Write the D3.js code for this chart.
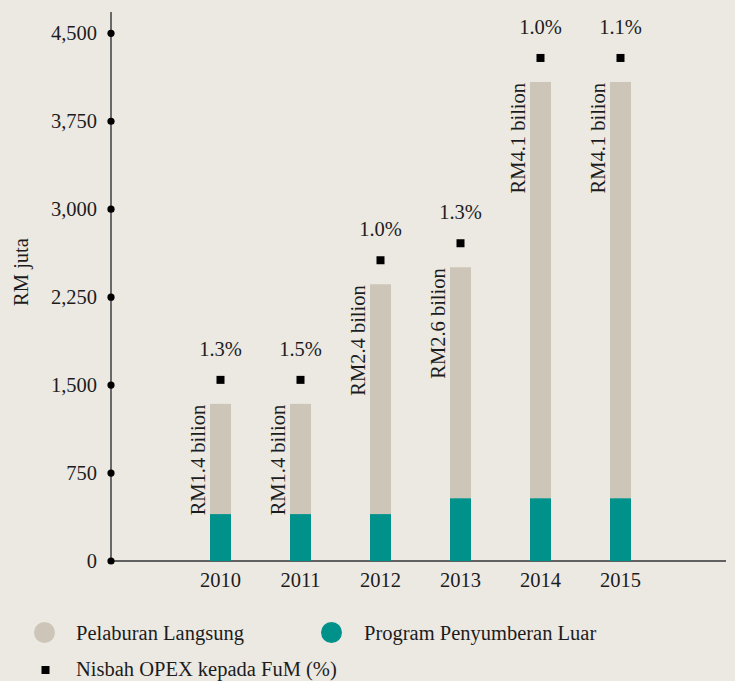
<!DOCTYPE html>
<html>
<head>
<meta charset="utf-8">
<script src="https://cdn.jsdelivr.net/npm/d3@7"></script>
<style>
  html, body { margin: 0; padding: 0; background: #ece9e3; }
  svg { display: block; font-family: "Liberation Serif", "DejaVu Serif", serif; }
</style>
</head>
<body>
<div class="js-chart"></div>
<script>
var years = ['2010', '2011', '2012', '2013', '2014', '2015']
  , outsourced = [400, 400, 400, 535, 535, 535]          // Program Penyumberan Luar
  , direct = [940, 940, 1960, 1970, 3550, 3550]          // Pelaburan Langsung
  , totalLabels = ['RM1.4 bilion', 'RM1.4 bilion', 'RM2.4 bilion', 'RM2.6 bilion', 'RM4.1 bilion', 'RM4.1 bilion']
  , opexRatio = [1.3, 1.5, 1.0, 1.3, 1.0, 1.1]
  , yTicks = [0, 750, 1500, 2250, 3000, 3750, 4500]
  ;

(function() {
  var width = 735
    , height = 681
    , axisX = 111
    , baseY = 561
    , fontSize = 20.5
    , barWidth = 21
    , ink = '#1c1c1c'
    , grey = '#cdc6b8'
    , teal = '#00918a'
    ;

  var rows = years.map((y, i) => ({
    year: y,
    outsourced: outsourced[i],
    direct: direct[i],
    total: outsourced[i] + direct[i],
    label: totalLabels[i],
    ratio: opexRatio[i]
  }));

  var x = d3.scalePoint()
        .domain(years)
        .range([220.5, 620.5])
    , y = d3.scaleLinear()
        .domain([0, 4500])
        .range([baseY, 33.3])
    ;

  var svg = d3.select('.js-chart')
        .append('svg')
          .attr('width', width)
          .attr('height', height)
    ;

  svg.append('rect')
    .attr('width', width)
    .attr('height', height)
    .attr('fill', '#ece9e3');

  // axes lines
  svg.append('line')
    .attr('x1', axisX).attr('x2', axisX)
    .attr('y1', 12).attr('y2', baseY)
    .attr('stroke', '#333')
    .attr('stroke-width', 1.4);

  svg.append('line')
    .attr('x1', axisX).attr('x2', 726)
    .attr('y1', baseY).attr('y2', baseY)
    .attr('stroke', '#333')
    .attr('stroke-width', 1.4);

  // y ticks as dots
  var gY = svg.append('g')
    .attr('font-size', fontSize)
    .attr('fill', ink);

  gY.selectAll('circle')
    .data(yTicks)
    .enter()
    .append('circle')
      .attr('cx', axisX)
      .attr('cy', d => y(d))
      .attr('r', 3.6)
      .attr('fill', '#000');

  gY.selectAll('text')
    .data(yTicks)
    .enter()
    .append('text')
      .attr('x', 97)
      .attr('y', d => y(d))
      .attr('dy', '0.34em')
      .attr('text-anchor', 'end')
      .text(d => d3.format(',')(d));

  svg.append('text')
    .attr('transform', 'translate(28,272) rotate(-90)')
    .attr('text-anchor', 'middle')
    .attr('font-size', fontSize)
    .attr('fill', ink)
    .text('RM juta');

  // x labels
  svg.append('g')
    .attr('font-size', fontSize)
    .attr('fill', ink)
    .attr('text-anchor', 'middle')
    .selectAll('text')
    .data(years)
    .enter()
    .append('text')
      .attr('x', d => x(d))
      .attr('y', 587)
      .text(d => d);

  // bars
  var gBar = svg.append('g');

  gBar.selectAll('rect.direct')
    .data(rows)
    .enter()
    .append('rect')
      .attr('class', 'direct')
      .attr('x', d => x(d.year) - barWidth / 2)
      .attr('y', d => y(d.total))
      .attr('width', barWidth)
      .attr('height', d => y(d.outsourced) - y(d.total))
      .attr('fill', grey);

  gBar.selectAll('rect.outsourced')
    .data(rows)
    .enter()
    .append('rect')
      .attr('class', 'outsourced')
      .attr('x', d => x(d.year) - barWidth / 2)
      .attr('y', d => y(d.outsourced))
      .attr('width', barWidth)
      .attr('height', d => y(0) - y(d.outsourced))
      .attr('fill', teal);

  // rotated total labels
  svg.append('g')
    .attr('font-size', fontSize)
    .attr('fill', ink)
    .attr('text-anchor', 'end')
    .selectAll('text')
    .data(rows)
    .enter()
    .append('text')
      .attr('transform', d => `translate(${x(d.year) - 15.5},${y(d.total) + 1}) rotate(-90)`)
      .text(d => d.label);

  // opex ratio markers
  var markerGap = 24;

  svg.append('g')
    .selectAll('rect')
    .data(rows)
    .enter()
    .append('rect')
      .attr('x', d => x(d.year) - 4)
      .attr('y', d => y(d.total) - markerGap - 4)
      .attr('width', 8)
      .attr('height', 8)
      .attr('fill', '#000');

  svg.append('g')
    .attr('font-size', fontSize)
    .attr('fill', ink)
    .attr('text-anchor', 'middle')
    .selectAll('text')
    .data(rows)
    .enter()
    .append('text')
      .attr('x', d => x(d.year))
      .attr('y', d => y(d.total) - markerGap - 24)
      .text(d => d3.format('.1f')(d.ratio) + '%');

  // legend
  var gKey = svg.append('g')
    .attr('font-size', fontSize)
    .attr('fill', ink);

  var keys = [
    {label: 'Pelaburan Langsung', color: grey, cx: 44.5, tx: 76},
    {label: 'Program Penyumberan Luar', color: teal, cx: 331.5, tx: 364}
  ];

  gKey.selectAll('circle')
    .data(keys)
    .enter()
    .append('circle')
      .attr('cx', d => d.cx)
      .attr('cy', 632.5)
      .attr('r', 10.5)
      .attr('fill', d => d.color);

  gKey.selectAll('text.key')
    .data(keys)
    .enter()
    .append('text')
      .attr('class', 'key')
      .attr('x', d => d.tx)
      .attr('y', 639.5)
      .text(d => d.label);

  gKey.append('rect')
    .attr('x', 41.5)
    .attr('y', 666)
    .attr('width', 8)
    .attr('height', 8)
    .attr('fill', '#000');

  gKey.append('text')
    .attr('x', 76)
    .attr('y', 676)
    .text('Nisbah OPEX kepada FuM (%)');
})();
</script>
</body>
</html>
